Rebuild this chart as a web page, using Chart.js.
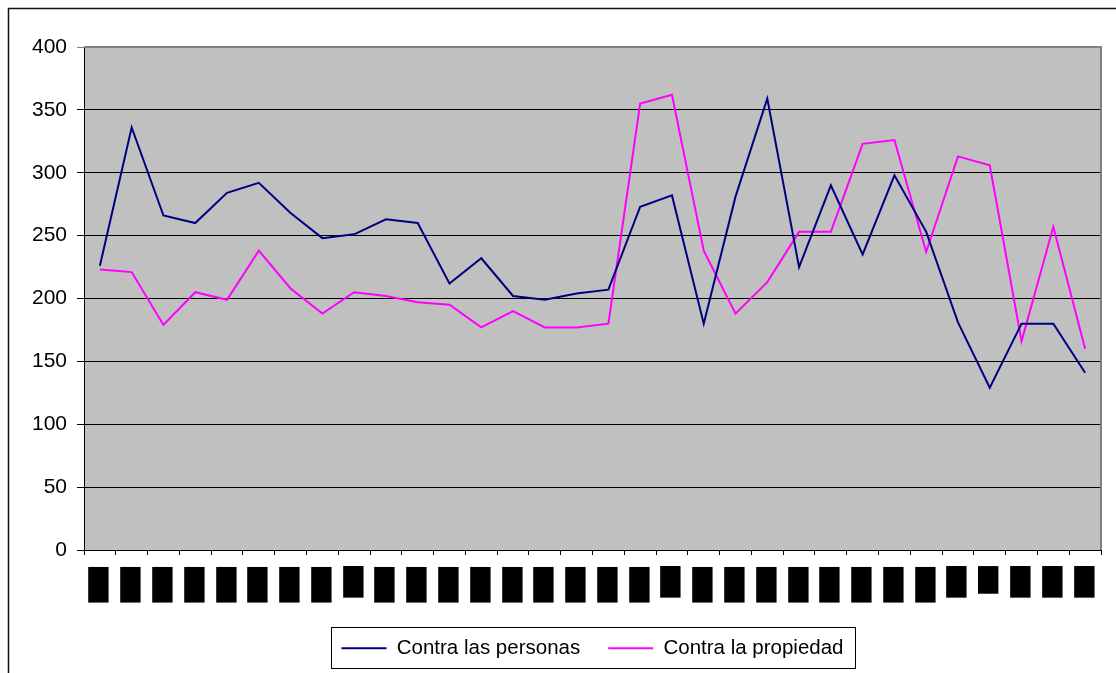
<!DOCTYPE html>
<html>
<head>
<meta charset="utf-8">
<script src="https://cdn.jsdelivr.net/npm/chart.js@4.4.1/dist/chart.umd.min.js"></script>
<style>
  html, body { margin: 0; padding: 0; background: #fff; }
  #wrap { width: 1116px; height: 673px; position: relative; }
</style>
</head>
<body>
<div id="wrap"><canvas id="c" width="1116" height="673"></canvas></div>
<script>
// Category labels (rendered as solid blocks)
const categories = ['█','█','█','█','█','█','█','█','█','█','█','█','█','█','█','█',
                    '█','█','█','█','█','█','█','█','█','█','█','█','█','█','█','█'];

// Series values
const contraPersonas = [226, 336, 266, 260, 284, 292, 268, 248, 251, 263, 260, 212, 232, 202, 199, 204,
                        207, 273, 282, 180, 281, 359, 225, 290, 235, 298, 253, 181, 129, 180, 180, 141];
const contraPropiedad = [223, 221, 179, 205, 199, 238, 208, 188, 205, 202, 197, 195, 177, 190, 177, 177,
                         180, 355, 362, 238, 188, 213, 253, 253, 323, 326, 237, 313, 306, 166, 257, 160];

// Y axis range
const yMin = 0, yMax = 400, yStep = 50;

const FONT = "'Liberation Sans', Arial, sans-serif";
Chart.defaults.font.family = FONT;
Chart.defaults.color = '#000';

// Category label block geometry
const BLOCK_FONT = "20px 'DejaVu Sans'";
const BLOCK_W = 22;
const BLOCK_GAP = 16;
const blockHeights = categories.map((_, i) => ({8: 32, 18: 32, 27: 32, 28: 28, 29: 32, 30: 32, 31: 32})[i] || 36);

const chartFrame = {
  id: 'chartFrame',
  afterLayout(chart) {
    // centre the legend under the plot area
    const lg = chart.legend, a = chart.chartArea;
    if (!lg) return;
    const dx = (a.left + a.right) / 2 - (lg.left + lg.right) / 2;
    lg.left += dx; lg.right += dx;
  },
  beforeDraw(chart) {
    const { ctx, chartArea: a } = chart;
    ctx.save();
    ctx.fillStyle = '#fff';
    ctx.fillRect(0, 0, chart.width, chart.height);
    ctx.strokeStyle = '#111';
    ctx.lineWidth = 1.5;
    ctx.beginPath();
    ctx.moveTo(8.5, chart.height);
    ctx.lineTo(8.5, 8.5);
    ctx.lineTo(chart.width, 8.5);
    ctx.stroke();
    ctx.fillStyle = '#C0C0C0';
    ctx.fillRect(a.left, a.top, a.right - a.left, a.bottom - a.top);
    ctx.restore();
  },
  afterDraw(chart) {
    const { ctx, chartArea: a } = chart;
    ctx.save();
    // plot area frame (top / right)
    ctx.strokeStyle = '#808080';
    ctx.lineWidth = 2;
    ctx.beginPath();
    ctx.moveTo(a.left, a.top);
    ctx.lineTo(a.right, a.top);
    ctx.lineTo(a.right, a.bottom);
    ctx.stroke();

    // category labels, each glyph stretched to its block size
    const sx = chart.scales.x;
    ctx.font = BLOCK_FONT;
    ctx.textAlign = 'left';
    ctx.textBaseline = 'alphabetic';
    ctx.fillStyle = '#000';
    chart.data.labels.forEach((lab, i) => {
      const m = ctx.measureText(lab);
      const gw = m.actualBoundingBoxLeft + m.actualBoundingBoxRight;
      const gh = m.actualBoundingBoxAscent + m.actualBoundingBoxDescent;
      if (!gw || !gh) return;
      const x = sx.getPixelForTick(i);
      ctx.save();
      ctx.translate(Math.floor(x - BLOCK_W / 2) - 1, sx.top + BLOCK_GAP);
      ctx.scale(BLOCK_W / gw, blockHeights[i] / gh);
      ctx.fillText(lab, m.actualBoundingBoxLeft, m.actualBoundingBoxAscent);
      ctx.restore();
    });

    // legend frame
    const hb = chart.legend && chart.legend.legendHitBoxes;
    if (hb && hb.length) {
      const first = hb[0], last = hb[hb.length - 1];
      const l = Math.round(first.left - 10) + 0.5;
      const r = Math.round(last.left + last.width + 11) + 0.5;
      const t = Math.round(first.top - 11) + 0.5;
      const b = Math.round(first.top + first.height + 9) + 0.5;
      ctx.strokeStyle = '#000';
      ctx.lineWidth = 1;
      ctx.strokeRect(l, t, r - l, b - t);
    }
    ctx.restore();
  }
};

new Chart(document.getElementById('c'), {
  type: 'line',
  data: {
    labels: categories,
    datasets: [
      { label: 'Contra las personas', data: contraPersonas, borderColor: '#000080', backgroundColor: '#000080',
        borderWidth: 2, pointRadius: 0, tension: 0, fill: false },
      { label: 'Contra la propiedad', data: contraPropiedad, borderColor: '#FF00FF', backgroundColor: '#FF00FF',
        borderWidth: 2, pointRadius: 0, tension: 0, fill: false }
    ]
  },
  options: {
    responsive: false,
    animation: false,
    devicePixelRatio: 1,
    events: [],
    layout: { padding: { top: 47, left: 0, right: 15, bottom: 13 } },
    plugins: {
      legend: {
        position: 'bottom',
        maxHeight: 50,
        labels: {
          usePointStyle: true, pointStyle: 'line', pointStyleWidth: 45,
          padding: 28, color: '#000', font: { size: 20.5, family: FONT }
        }
      },
      tooltip: { enabled: false }
    },
    scales: {
      x: {
        offset: true,
        grid: { offset: true, drawOnChartArea: false, drawTicks: true, tickLength: 5, color: '#000', lineWidth: 1 },
        border: { color: '#000', width: 1 },
        ticks: { display: false, autoSkip: false },
        afterFit(s) { s.height = 60; }
      },
      y: {
        min: yMin, max: yMax,
        ticks: { stepSize: yStep, padding: 10, color: '#000', font: { size: 21, family: FONT } },
        grid: {
          color: (c) => (c.tick && c.tick.value === yMax) ? '#808080' : '#000',
          lineWidth: 1, tickLength: 7, drawTicks: true
        },
        border: { color: '#000', width: 1 },
        afterFit(s) { s.width = 84; }
      }
    }
  },
  plugins: [chartFrame]
});
</script>
</body>
</html>
